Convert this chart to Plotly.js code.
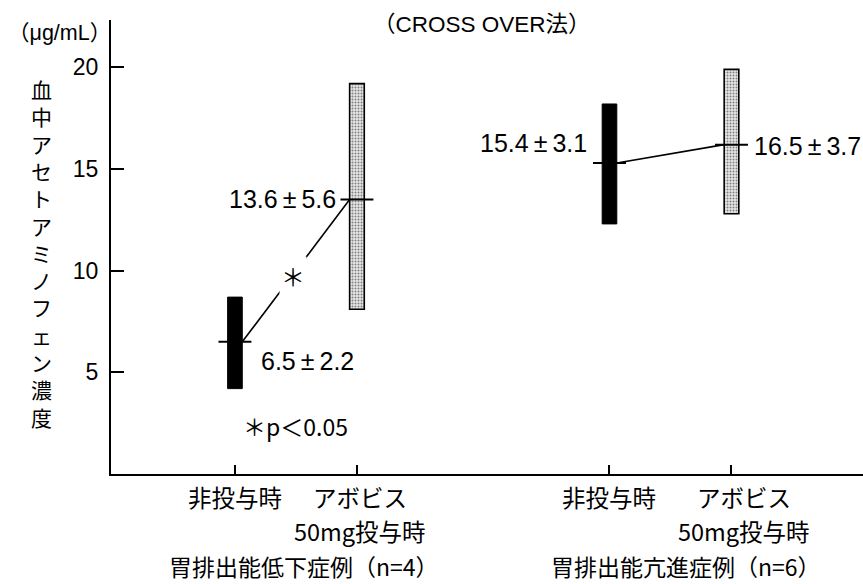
<!DOCTYPE html>
<html>
<head>
<meta charset="utf-8">
<script src="https://cdn.plot.ly/plotly-3.0.1.min.js"></script>
<style>html,body{margin:0;padding:0;background:#fff;}#chart{width:863px;height:584px;}</style>
</head>
<body>
<div id="chart"></div>
<script>
// ---- data ----
const categories = ['非投与時', 'アボビス<br>50mg投与時'];
const groups = ['胃排出能低下症例（n=4）', '胃排出能亢進症例（n=6）'];
const meanText = [6.5, 13.6, 15.4, 16.5];
const sdText = [2.2, 5.6, 3.1, 3.7];
const barLow = [4.2, 8.1, 12.3, 12.8];
const barHigh = [8.7, 19.2, 18.2, 19.9];
const meanLine = [6.5, 13.5, 15.3, 16.2];
const yTicks = [5, 10, 15, 20];
const titleText = '（CROSS OVER法）';
const unitText = '（μg/mL）';
const yTitleText = '血中アセトアミノフェン濃度';
const sigText = '＊p＜0.05';

// ---- layout helpers ----
const GROUP_GAP = 3.07;
const BAR_W = 0.12;
const xpos = [];
for (let g = 0; g < groups.length; g++) for (let i = 0; i < categories.length; i++) xpos.push(g * GROUP_GAP + i);

const FONT = 'Liberation Sans, Arial, Noto Sans CJK JP, sans-serif';
const CJK = 'Noto Sans CJK JP, Liberation Sans, sans-serif';
const PM = '\u2009±\u2009';

const traces = [];
// bars (range of mean ± SD as drawn)
[0, 1].forEach(i => {
  const idx = xpos.map((_, k) => k).filter(k => k % 2 === i);
  traces.push({
    type: 'bar',
    x: idx.map(k => xpos[k]),
    base: idx.map(k => barLow[k]),
    y: idx.map(k => barHigh[k] - barLow[k]),
    width: BAR_W,
    marker: i === 0
      ? {color: '#000', line: {color: '#000', width: 1}}
      : {color: '#e2e2e2', line: {color: '#000', width: 1.6},
         pattern: {shape: '.', bgcolor: '#e8e8e8', fgcolor: '#808080', size: 3, solidity: 0.35}},
    hoverinfo: 'skip', showlegend: false
  });
});
// mean ticks
const mx = [], my = [];
xpos.forEach((x, k) => { mx.push(x - 0.135, x + 0.135, null); my.push(meanLine[k], meanLine[k], null); });
traces.push({type: 'scatter', mode: 'lines', x: mx, y: my, line: {color: '#000', width: 2}, hoverinfo: 'skip', showlegend: false});
// connecting lines
for (let g = 0; g < groups.length; g++) {
  const a = 2 * g, b = 2 * g + 1;
  traces.push({type: 'scatter', mode: 'lines', x: [xpos[a] + BAR_W / 2, xpos[b] - BAR_W / 2], y: [meanLine[a], meanLine[b]],
    line: {color: '#000', width: 1.6}, hoverinfo: 'skip', showlegend: false});
}

const annotations = [];
// value labels
const labelPlace = [
  {xanchor: 'left', xshift: 24, yshift: -19},
  {xanchor: 'right', xshift: -19, yshift: 1},
  {xanchor: 'right', xshift: -20, yshift: 20},
  {xanchor: 'left', xshift: 21, yshift: -1}
];
xpos.forEach((x, k) => {
  annotations.push(Object.assign({
    x: x, y: meanLine[k], xref: 'x', yref: 'y', yanchor: 'middle',
    text: meanText[k].toFixed(1) + PM + sdText[k].toFixed(1),
    showarrow: false, font: {family: FONT, size: 25, color: '#000'}
  }, labelPlace[k]));
});
// significance star on the line
annotations.push({
  x: (xpos[0] + xpos[1]) / 2, y: (meanLine[0] + meanLine[1]) / 2, xref: 'x', yref: 'y',
  text: '＊', showarrow: false, bgcolor: '#fff', xshift: -3, yshift: -5,
  font: {family: CJK, size: 24, color: '#000'}
});
annotations.push({
  x: (xpos[0] + xpos[1]) / 2, y: 2.36, xref: 'x', yref: 'y', text: sigText, showarrow: false,
  font: {family: CJK, size: 23, color: '#000'}
});
// title, unit, y title
annotations.push({x: 0.493, y: 0.991, xref: 'paper', yref: 'paper', yanchor: 'middle', text: titleText, showarrow: false,
  font: {family: FONT, size: 22.5, color: '#000'}});
annotations.push({x: 0, y: 0.971, xref: 'paper', yref: 'paper', xanchor: 'right', yanchor: 'middle', xshift: 1, borderpad: 0,
  text: unitText, showarrow: false, font: {family: FONT, size: 21.5, color: '#000'}});
annotations.push({x: -0.0918, y: 0.487, xref: 'paper', yref: 'paper', xanchor: 'center', yanchor: 'middle',
  text: yTitleText.split('').join('<br>'), showarrow: false, font: {family: CJK, size: 21, color: '#000'}});
// x category labels (two rows)
const rowY = [-0.0507, -0.1256];
const catShift = [[0, 0], [3, 13]];
xpos.forEach((x, k) => {
  const g = Math.floor(k / 2), i = k % 2;
  categories[i].split('<br>').forEach((line, r) => {
    annotations.push({x: x, y: rowY[r], xref: 'x', yref: 'paper', yanchor: 'middle', xshift: i === 1 ? catShift[1][g] : 0,
      text: line, showarrow: false, font: {family: CJK, size: 23.5, color: '#000'}});
  });
});
// group labels
const groupShift = [8, 16];
groups.forEach((gname, g) => {
  annotations.push({x: (xpos[2 * g] + xpos[2 * g + 1]) / 2, y: -0.203, xref: 'x', yref: 'paper', yanchor: 'middle',
    xshift: groupShift[g], text: gname, showarrow: false, borderpad: 0, font: {family: CJK, size: 23, color: '#000'}});
});

const layout = {
  width: 863, height: 584,
  margin: {l: 111, r: 0, t: 20, b: 110},
  paper_bgcolor: '#fff', plot_bgcolor: '#fff',
  showlegend: false,
  barmode: 'overlay',
  xaxis: {
    range: [-1.016, 5.148], showgrid: false, zeroline: false,
    showline: true, linecolor: '#000', linewidth: 2,
    ticks: 'inside', ticklen: 9, tickwidth: 2, tickcolor: '#000',
    tickvals: xpos, ticktext: xpos.map(() => ''),
    tickfont: {family: CJK, size: 22, color: '#000'}
  },
  yaxis: {
    range: [0, 22.33], showgrid: false, zeroline: false,
    showline: true, linecolor: '#000', linewidth: 2,
    ticks: 'inside', ticklen: 13, tickwidth: 2, tickcolor: '#000',
    tickvals: yTicks, ticktext: yTicks.map(String),
    ticklabelstandoff: 6,
    tickfont: {family: FONT, size: 23, color: '#000'}
  },
  annotations: annotations
};

Plotly.newPlot('chart', traces, layout, {staticPlot: true, displayModeBar: false});
</script>
</body>
</html>
